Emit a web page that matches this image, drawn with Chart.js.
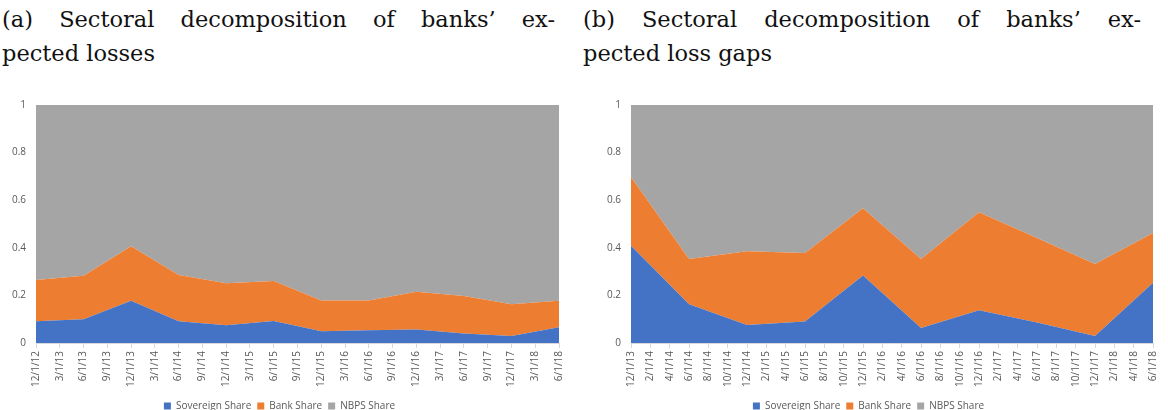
<!DOCTYPE html>
<html>
<head>
<meta charset="utf-8">
<script src="https://cdn.jsdelivr.net/npm/chart.js@4.4.0/dist/chart.umd.min.js"></script>
<style>
  body { margin: 0; background: #fff; width: 1168px; height: 410px; overflow: hidden; position: relative; }
  .title { position: absolute; top: 2px; font-family: "DejaVu Serif", "Liberation Serif", serif; font-size: 22.5px; line-height: 34px; color: #111; }
  .title .l1 { text-align: justify; text-align-last: justify; }
  .box { position: absolute; top: 90px; height: 331px; }
</style>
</head>
<body>
<div class="title" style="left:2px; width:553px;">
  <div class="l1">(a) Sectoral decomposition of banks’ ex-</div>
  <div>pected losses</div>
</div>
<div class="title" style="left:583px; width:558px;">
  <div class="l1">(b) Sectoral decomposition of banks’ ex-</div>
  <div>pected loss gaps</div>
</div>
<div class="box" style="left:0; width:575px;"><canvas id="chartA"></canvas></div>
<div class="box" style="left:580px; width:588px;"><canvas id="chartB"></canvas></div>
<script>
// (a) expected losses: quarterly axis, semi-annual observations (month offset from 12/1/12)
const ticksA = ['12/1/12','3/1/13','6/1/13','9/1/13','12/1/13','3/1/14','6/1/14','9/1/14','12/1/14','3/1/15','6/1/15','9/1/15',
  '12/1/15','3/1/16','6/1/16','9/1/16','12/1/16','3/1/17','6/1/17','9/1/17','12/1/17','3/1/18','6/1/18'];
const monthsA = [0, 6, 12, 18, 24, 30, 36, 42, 48, 54, 60, 66];
const sovA  = [0.091, 0.100, 0.177, 0.091, 0.075, 0.092, 0.049, 0.054, 0.057, 0.040, 0.029, 0.066];
const bankA = [0.174, 0.183, 0.230, 0.195, 0.176, 0.169, 0.130, 0.125, 0.158, 0.158, 0.134, 0.111];
const nbpsA = [0.735, 0.717, 0.593, 0.714, 0.749, 0.739, 0.821, 0.821, 0.785, 0.802, 0.837, 0.823];

// (b) expected loss gaps: bimonthly axis, semi-annual observations (month offset from 12/1/13)
const ticksB = ['12/1/13','2/1/14','4/1/14','6/1/14','8/1/14','10/1/14','12/1/14','2/1/15','4/1/15','6/1/15','8/1/15','10/1/15',
  '12/1/15','2/1/16','4/1/16','6/1/16','8/1/16','10/1/16','12/1/16','2/1/17','4/1/17','6/1/17','8/1/17','10/1/17',
  '12/1/17','2/1/18','4/1/18','6/1/18'];
const monthsB = [0, 6, 12, 18, 24, 30, 36, 42, 48, 54];
const sovB  = [0.409, 0.163, 0.076, 0.090, 0.284, 0.063, 0.138, 0.086, 0.029, 0.253];
const bankB = [0.289, 0.190, 0.309, 0.288, 0.282, 0.290, 0.411, 0.355, 0.303, 0.209];
const nbpsB = [0.302, 0.647, 0.615, 0.622, 0.434, 0.647, 0.451, 0.559, 0.668, 0.538];

const yTicks = [0, 0.2, 0.4, 0.6, 0.8, 1];
const seriesNames = ['Sovereign Share', 'Bank Share', 'NBPS Share'];
const colors = ['#4472C4', '#ED7D31', '#A5A5A5'];
const textColor = '#595959';
const tickFont = { family: 'Open Sans', size: 10 };

function makeChart(id, months, series, tickLabels, step, yWidth, rightPad) {
  const datasets = series.map((vals, i) => ({
    label: seriesNames[i],
    data: vals.map((v, j) => ({ x: months[j], y: v })),
    backgroundColor: colors[i],
    borderColor: colors[i],
    borderWidth: 0,
    pointRadius: 0,
    fill: i === 0 ? 'origin' : '-1',
    tension: 0
  }));
  const maxX = (tickLabels.length - 1) * step;
  return new Chart(document.getElementById(id), {
    type: 'line',
    data: { datasets: datasets },
    options: {
      responsive: true,
      maintainAspectRatio: false,
      animation: false,
      layout: { padding: { top: 15, right: rightPad, left: 0, bottom: 0 } },
      plugins: {
        legend: {
          position: 'bottom',
          labels: { boxWidth: 7, boxHeight: 7, color: textColor, font: { family: 'Open Sans', size: 10 }, padding: 6 }
        },
        tooltip: { enabled: false }
      },
      scales: {
        x: {
          type: 'linear',
          min: 0,
          max: maxX,
          afterBuildTicks: scale => { scale.ticks = tickLabels.map((l, i) => ({ value: i * step })); },
          afterFit: scale => { scale.height = 52; },
          ticks: {
            autoSkip: false,
            maxRotation: 90,
            minRotation: 90,
            color: textColor,
            font: tickFont,
            callback: v => tickLabels[Math.round(v / step)]
          },
          grid: { display: true, drawOnChartArea: false, tickLength: 5, color: '#d9d9d9' },
          border: { color: '#d9d9d9' }
        },
        y: {
          stacked: true,
          min: 0,
          max: 1,
          afterBuildTicks: scale => { scale.ticks = yTicks.map(v => ({ value: v })); },
          afterFit: scale => { scale.width = yWidth; },
          ticks: { color: textColor, font: tickFont, padding: 2, callback: v => String(Math.round(v * 10) / 10) },
          grid: { display: false },
          border: { display: false }
        }
      }
    }
  });
}

makeChart('chartA', monthsA, [sovA, bankA, nbpsA], ticksA, 3, 36, 16);
makeChart('chartB', monthsB, [sovB, bankB, nbpsB], ticksB, 2, 51, 11);
</script>
</body>
</html>
